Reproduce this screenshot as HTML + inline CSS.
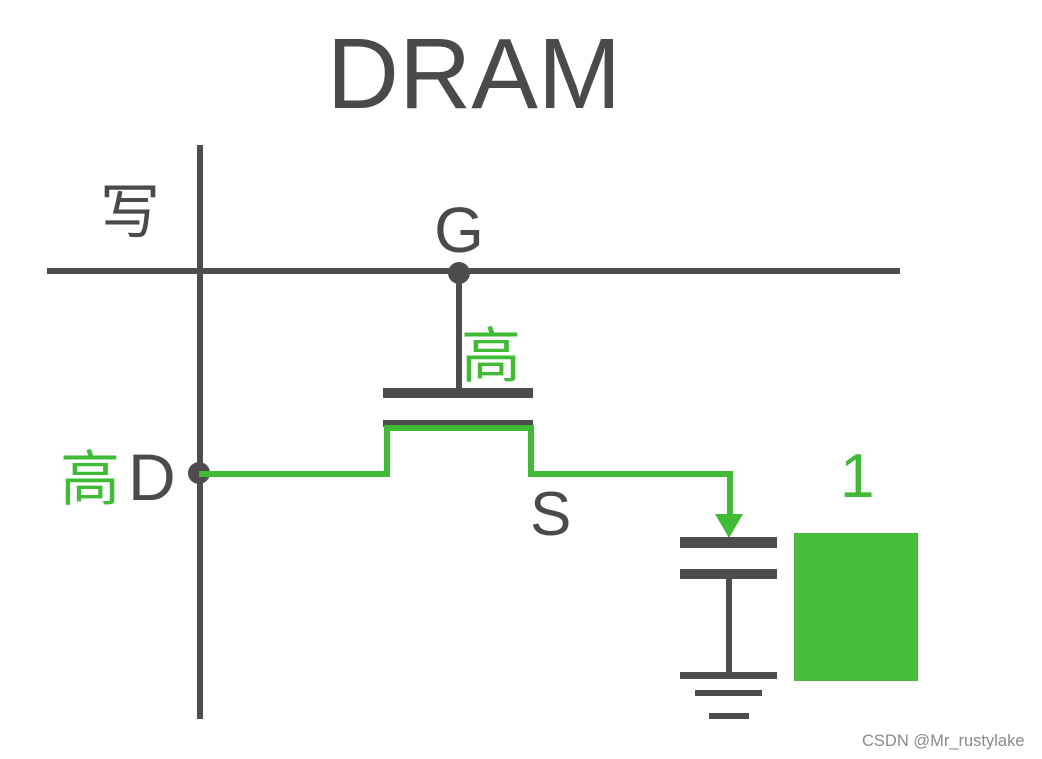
<!DOCTYPE html>
<html><head><meta charset="utf-8"><style>
html,body{margin:0;padding:0;background:#fff;width:1042px;height:759px;overflow:hidden}
text{font-family:"Liberation Sans","Noto Sans CJK SC",sans-serif}
</style></head><body>
<svg width="1042" height="759" viewBox="0 0 1042 759" xmlns="http://www.w3.org/2000/svg">
<rect width="1042" height="759" fill="#fff"/>
<text x="474" y="108" font-size="100" fill="#4a4a4a" text-anchor="middle">DRAM</text>
<rect x="197" y="145" width="6" height="574" fill="#4d4d4d"/>
<rect x="47" y="268" width="853" height="6" fill="#4d4d4d"/>
<rect x="456" y="272" width="6" height="118" fill="#4d4d4d"/>
<rect x="383" y="388" width="150" height="10" fill="#4d4d4d"/>
<rect x="383" y="420" width="150" height="7" fill="#4d4d4d"/>
<polyline points="200,474 387,474 387,428 531,428 531,474 730,474 730,520" fill="none" stroke="#3fbb35" stroke-width="6"/>
<polygon points="715,514 743,514 729,538" fill="#3fbb35"/>
<circle cx="459" cy="273" r="11" fill="#4d4d4d"/>
<circle cx="199" cy="473" r="11" fill="#4d4d4d"/>
<line x1="199" y1="474" x2="215" y2="474" stroke="#3fbb35" stroke-width="6"/>
<rect x="680" y="537" width="97" height="11" fill="#4d4d4d"/>
<rect x="680" y="569" width="97" height="10" fill="#4d4d4d"/>
<rect x="726" y="578" width="6" height="96" fill="#4d4d4d"/>
<rect x="680" y="672" width="97" height="7" fill="#4d4d4d"/>
<rect x="695" y="690" width="67" height="6" fill="#4d4d4d"/>
<rect x="709" y="713" width="40" height="6" fill="#4d4d4d"/>
<rect x="794" y="533" width="124" height="148" fill="#45bd38"/>
<text x="100" y="233" font-size="60" fill="#4a4a4a">写</text>
<text x="459" y="252" font-size="64" fill="#4a4a4a" text-anchor="middle">G</text>
<text x="461" y="377" font-size="60" fill="#3fbb35">高</text>
<text x="60" y="500" font-size="60" fill="#3fbb35">高</text>
<text x="128" y="500" font-size="66" fill="#4a4a4a">D</text>
<text x="530" y="535" font-size="62" fill="#4a4a4a">S</text>
<text x="840" y="497" font-size="62" fill="#3fbb35">1</text>
<text x="862" y="746" font-size="16.5" fill="#8a8a8a">CSDN @Mr_rustylake</text>
</svg>
</body></html>
